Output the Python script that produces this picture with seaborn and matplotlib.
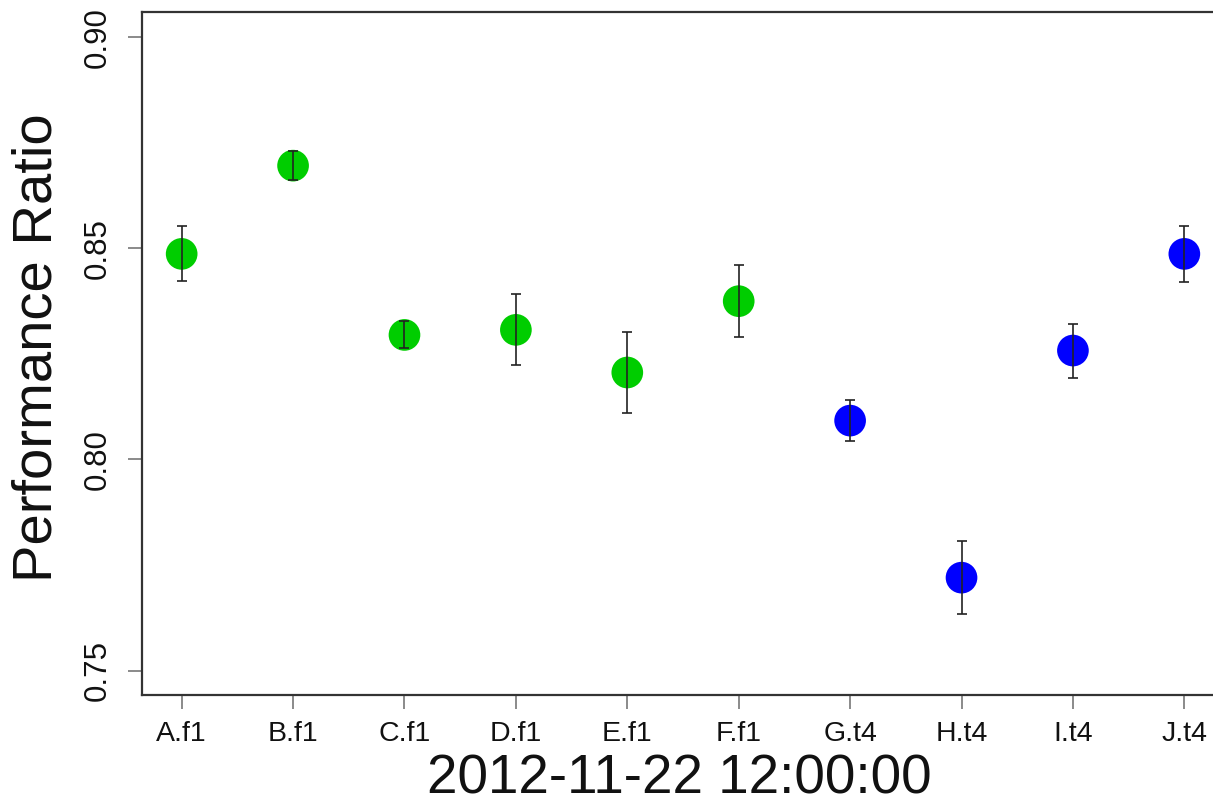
import matplotlib
matplotlib.use("Agg")
import matplotlib.pyplot as plt
import seaborn as sns
import pandas as pd

# Performance ratio per unit, with half-width of the error bar
units = ["A.f1", "B.f1", "C.f1", "D.f1", "E.f1", "F.f1", "G.t4", "H.t4", "I.t4", "J.t4"]
ratio = [0.8487, 0.8696, 0.8295, 0.8307, 0.8206, 0.8375, 0.8092, 0.7720, 0.8258, 0.8487]
err = [0.0065, 0.0035, 0.0032, 0.0084, 0.0095, 0.0086, 0.0048, 0.0086, 0.0064, 0.0066]
group = ["f1", "f1", "f1", "f1", "f1", "f1", "t4", "t4", "t4", "t4"]
y_ticks = [0.75, 0.80, 0.85, 0.90]
x_title = "2012-11-22 12:00:00"
y_title = "Performance Ratio"

df = pd.DataFrame({"unit": units, "ratio": ratio, "err": err, "group": group})

sns.set_style("white")
plt.rcParams["font.family"] = ["Liberation Sans", "DejaVu Sans"]

W, H = 1213, 801
fig = plt.figure(figsize=(W / 100, H / 100), dpi=100)
left, right, top, bottom = 142, 1224, 12, 695
ax = fig.add_axes([left / W, 1 - bottom / H, (right - left) / W, (bottom - top) / H])

sns.scatterplot(data=df, x="unit", y="ratio", hue="group",
                palette={"f1": "#00CD00", "t4": "#0000FF"},
                s=520, linewidth=0, legend=False, ax=ax, zorder=2)

ax.errorbar(range(len(units)), df["ratio"], yerr=df["err"], fmt="none",
            ecolor="#222222", elinewidth=1.4, capsize=3.5, capthick=1.4,
            alpha=0.85, zorder=3)

ax.set_xlim(-0.356, len(units) - 1 + 0.356)
ax.set_ylim(0.7442, 0.906)
ax.set_yticks(y_ticks)
ax.set_yticklabels([f"{t:.2f}" for t in y_ticks], rotation=90, va="center")

for side in ["left", "bottom", "top", "right"]:
    ax.spines[side].set_color("#333333")
    ax.spines[side].set_linewidth(1.6)

ax.tick_params(axis="both", which="major", length=10, width=1.2,
               color="#777777", labelcolor="#111111",
               left=True, bottom=True)
ax.tick_params(axis="x", pad=9, labelsize=20.5)
ax.tick_params(axis="y", pad=11, labelsize=22.5)

ax.set_xlabel(x_title, fontsize=39.5, color="#111111")
ax.set_ylabel(y_title, fontsize=40.5, color="#111111")
ax.xaxis.set_label_coords(0.497, -0.085)
ax.yaxis.set_label_coords(-0.073, 0.509)

fig.savefig("out.png", dpi=100, facecolor="white")
